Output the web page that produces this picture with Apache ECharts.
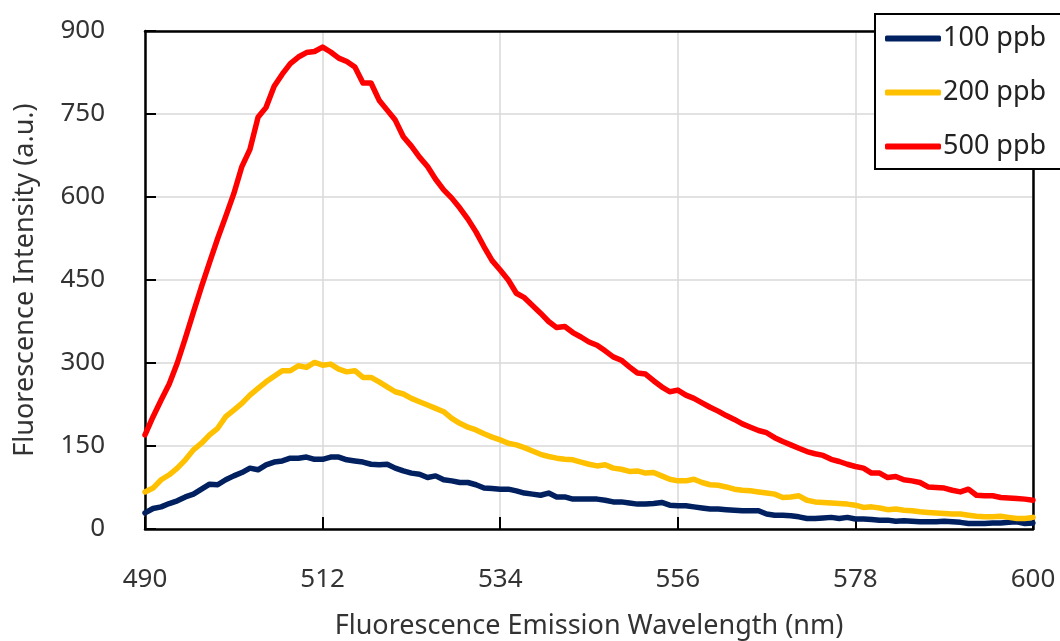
<!DOCTYPE html>
<html>
<head>
<meta charset="utf-8">
<script src="https://cdn.jsdelivr.net/npm/echarts@6/dist/echarts.min.js"></script>
<style>
html,body{margin:0;padding:0;background:#fff;}
#chart{width:1060px;height:641px;}
</style>
</head>
<body>
<div id="chart"></div>
<script>
var wavelengths = [490,491,492,493,494,495,496,497,498,499,500,501,502,503,504,505,506,507,508,509,
510,511,512,513,514,515,516,517,518,519,520,521,522,523,524,525,526,527,528,529,
530,531,532,533,534,535,536,537,538,539,540,541,542,543,544,545,546,547,548,549,
550,551,552,553,554,555,556,557,558,559,560,561,562,563,564,565,566,567,568,569,
570,571,572,573,574,575,576,577,578,579,580,581,582,583,584,585,586,587,588,589,
590,591,592,593,594,595,596,597,598,599,600];

var seriesNames = ['100 ppb', '200 ppb', '500 ppb'];

var ppb100 = [29,37,40,46,51,58,63,72,81,80,89,96,102,110,107,116,121,123,128,128,
130,126,126,130,130,125,123,121,117,116,117,110,105,101,99,93,96,89,87,84,
84,80,74,73,72,72,69,65,63,61,65,58,58,54,54,54,54,52,49,49,
47,45,45,46,48,43,42,42,40,38,36,36,35,34,33,33,33,27,25,25,
24,22,19,19,20,21,19,21,18,18,17,16,16,14,15,14,13,13,13,14,
13,12,10,10,10,11,11,12,13,10,11];

var ppb200 = [67,74,89,98,110,125,143,155,170,182,203,215,227,242,254,266,276,286,286,295,
292,301,296,298,289,284,286,274,274,266,257,248,244,236,230,224,218,212,200,191,
184,179,172,166,161,155,152,147,141,135,131,128,126,125,121,117,114,116,110,108,
104,105,101,102,96,90,87,87,90,84,80,79,76,72,70,69,67,65,63,57,
58,60,52,49,48,47,46,45,43,39,40,38,35,36,34,33,31,30,29,28,
27,27,25,23,22,22,23,21,19,19,21];

var ppb500 = [170,203,233,262,300,345,392,438,482,525,565,606,655,686,744,762,800,822,841,853,
861,863,871,862,851,845,835,806,806,775,757,739,709,692,672,655,632,613,598,580,
560,537,510,485,468,450,426,418,404,390,375,364,366,355,347,338,332,322,311,305,
293,282,280,268,257,248,251,242,236,228,220,213,205,198,190,184,178,174,165,158,
152,146,140,136,133,126,122,117,113,110,101,101,93,95,89,87,84,76,75,74,
70,67,72,61,60,60,57,56,55,54,52];

var xTickMin = 490, xTickMax = 600, xTickStep = 22;
var yTickMin = 0, yTickMax = 900, yTickStep = 150;

var colors = ['#002060', '#FFC000', '#FF0000'];
var valueSets = [ppb100, ppb200, ppb500];

function pairs(vals) {
  return wavelengths.map(function (w, i) { return [w, vals[i]]; });
}

var FONT = 'Noto Sans';
var TXT = '#333';
var chart = echarts.init(document.getElementById('chart'), null, {renderer: 'canvas'});

var series = seriesNames.map(function (name, k) {
  return {
    name: name,
    type: 'line',
    data: pairs(valueSets[k]),
    showSymbol: false,
    symbol: 'none',
    lineStyle: {color: colors[k], width: 5.5, cap: 'round', join: 'round'},
    itemStyle: {color: colors[k]},
    z: 3 + k
  };
});

var frameAxis = {
  show: true,
  axisLine: {show: true, onZero: false, lineStyle: {color: '#000', width: 2.5}},
  axisTick: {show: false},
  axisLabel: {show: false},
  splitLine: {show: false}
};

chart.setOption({
  animation: false,
  backgroundColor: '#ffffff',
  grid: {left: 145, top: 31, right: 27, bottom: 112, containLabel: false, outerBoundsMode: 'none'},
  graphic: [{
    type: 'rect',
    z: 30,
    shape: {x: 875, y: 14, width: 200, height: 155},
    style: {fill: '#fff', stroke: '#000', lineWidth: 2}
  }],
  legend: {
    z: 40,
    data: seriesNames.map(function (n) { return {name: n, icon: 'roundRect'}; }),
    orient: 'vertical',
    left: 875,
    top: 14,
    itemWidth: 56,
    itemHeight: 6,
    itemGap: 27,
    padding: [11, 10, 12, 10],
    textStyle: {fontFamily: FONT, fontSize: 27, color: '#222', padding: [0, 0, 0, -3]}
  },
  xAxis: [{
    type: 'value',
    min: xTickMin,
    max: xTickMax,
    interval: xTickStep,
    name: 'Fluorescence Emission Wavelength (nm)',
    nameLocation: 'middle',
    nameGap: 84,
    nameTextStyle: {fontFamily: FONT, fontSize: 27, color: TXT},
    axisLine: {show: true, onZero: false, lineStyle: {color: '#000', width: 2.5}},
    axisTick: {show: true, inside: true, length: 12, lineStyle: {color: '#000', width: 2}},
    axisLabel: {fontFamily: FONT, fontSize: 26, color: TXT, margin: 38},
    splitLine: {show: true, lineStyle: {color: '#d9d9d9', width: 1.5}}
  }, Object.assign({type: 'value', position: 'top', min: xTickMin, max: xTickMax, interval: xTickStep}, frameAxis)],
  yAxis: [{
    type: 'value',
    min: yTickMin,
    max: yTickMax,
    interval: yTickStep,
    name: 'Fluorescence Intensity (a.u.)',
    nameLocation: 'middle',
    nameGap: 106,
    nameTextStyle: {fontFamily: FONT, fontSize: 27, color: TXT},
    axisLine: {show: true, onZero: false, lineStyle: {color: '#000', width: 2.5}},
    axisTick: {show: true, inside: true, length: 11, lineStyle: {color: '#000', width: 2}},
    axisLabel: {fontFamily: FONT, fontSize: 26, color: TXT, margin: 40},
    splitLine: {show: true, lineStyle: {color: '#d9d9d9', width: 1.5}}
  }, Object.assign({type: 'value', position: 'right', min: yTickMin, max: yTickMax, interval: yTickStep}, frameAxis)],
  series: series
});
</script>
</body>
</html>
